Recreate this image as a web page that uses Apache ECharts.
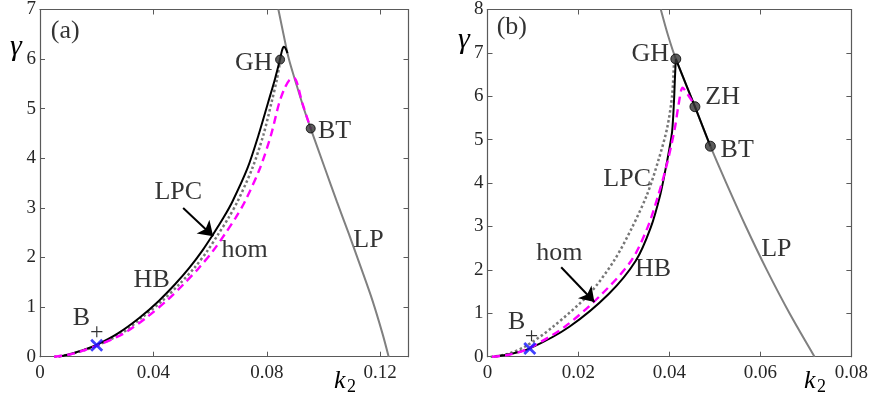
<!DOCTYPE html>
<html><head><meta charset="utf-8">
<script src="https://cdn.jsdelivr.net/npm/echarts@6/dist/echarts.min.js"></script>
<style>html,body{margin:0;padding:0;background:#fff}#c{width:871px;height:398px}</style>
</head><body><div id="c"></div>
<script>
// ---------- Panel (a) data ----------
const aXTicks = ['0', '0.04', '0.08', '0.12'];
const aLP  = [[0.0841,7],[0.0859,6.5],[0.0878,6.0],[0.0904,5.5],[0.0931,5.0],[0.0955,4.6],[0.1005,3.8],[0.1047,3.13],[0.1090,2.47],[0.1132,1.8],[0.1173,1.13],[0.1208,0.47],[0.1230,0]];
const aHB  = [[0.0065,0],[0.0105,0.05],[0.0145,0.12],[0.0200,0.24],[0.0275,0.47],[0.0350,0.78],[0.0420,1.13],[0.0478,1.47],[0.0528,1.8],[0.0574,2.15],[0.0611,2.47],[0.0647,2.8],[0.0679,3.13],[0.0732,3.8],[0.0771,4.47],[0.0805,5.13],[0.0829,5.6],[0.0847,6.0],[0.0854,6.18],[0.0860,6.25],[0.0866,6.22],[0.0873,6.12]];
const aLPC = [[0.0050,0],[0.0100,0.04],[0.0150,0.12],[0.0200,0.22],[0.0288,0.47],[0.0362,0.8],[0.0432,1.13],[0.0493,1.47],[0.0546,1.8],[0.0590,2.13],[0.0629,2.47],[0.0665,2.8],[0.0697,3.13],[0.0749,3.8],[0.0788,4.47],[0.0817,5.13],[0.0836,5.6],[0.0847,5.95]];
const aHom = [[0.0050,0],[0.0100,0.04],[0.0150,0.12],[0.0200,0.22],[0.0296,0.47],[0.0378,0.8],[0.0447,1.13],[0.0508,1.47],[0.0562,1.8],[0.0610,2.13],[0.0652,2.47],[0.0690,2.8],[0.0723,3.13],[0.0776,3.8],[0.0815,4.47],[0.0843,5.1],[0.0862,5.4],[0.0880,5.58],[0.0896,5.62],[0.0926,5.1],[0.0955,4.6]];
const aDots = [[0.0847,5.99],[0.0955,4.6]];
const aB = [[0.0200,0.23]];
const aArrow = [[0.0505,3.0],[0.0611,2.43]];
const aLabels = [[0.0089,6.57,'(a)'],[0.0754,5.92,'GH'],[0.1039,4.54,'BT'],[0.0488,3.32,'LPC'],[0.0722,2.15,'hom'],[0.0394,1.54,'HB'],[0.1159,2.34,'LP'],[0.0146,0.78,'B']];
const aPlus = [[0.0200,0.48,'+']];

// ---------- Panel (b) data ----------
const bXTicks = ['0', '0.02', '0.04', '0.06', '0.08'];
const bLP  = [[0.0381,8],[0.0397,7.4],[0.0414,6.86],[0.0456,5.76],[0.0490,4.85],[0.0525,4],[0.0568,3],[0.0614,2],[0.0664,1],[0.0719,0]];
const bHB  = [[0.0014,0],[0.0050,0.06],[0.0093,0.19],[0.0180,0.69],[0.0267,1.45],[0.0326,2.21],[0.0359,2.98],[0.0380,3.74],[0.0392,4.35],[0.0400,4.8],[0.0406,5.2],[0.0410,5.88],[0.0412,6.4],[0.0414,6.86]];
const bHB2 = [[0.0414,6.86],[0.0456,5.76],[0.0490,4.85]];
const bLPC = [[0.0007,0],[0.0040,0.05],[0.0082,0.23],[0.0144,0.69],[0.0224,1.45],[0.0278,2.21],[0.0318,2.98],[0.0351,3.74],[0.0375,4.5],[0.0395,5.27],[0.0406,6.03],[0.0410,6.79]];
const bHom = [[0.0010,0],[0.0050,0.05],[0.0090,0.19],[0.0170,0.69],[0.0252,1.45],[0.0316,2.21],[0.0352,2.98],[0.0376,3.74],[0.0396,4.5],[0.0412,5.27],[0.0420,5.8],[0.0429,6.2],[0.0440,6.05],[0.0452,5.85]];
const bDots = [[0.0414,6.86],[0.0456,5.76],[0.0490,4.85]];
const bB = [[0.0093,0.19]];
const bArrow = [[0.0162,2.06],[0.0235,1.26]];
const bLabels = [[0.00535,7.60,'(b)'],[0.0358,6.97,'GH'],[0.0517,5.99,'ZH'],[0.0549,4.77,'BT'],[0.0307,4.10,'LPC'],[0.0158,2.38,'hom'],[0.0364,2.02,'HB'],[0.0635,2.47,'LP'],[0.0064,0.79,'B']];
const bPlus = [[0.0097,0.47,'+']];

// ---------- styling ----------
const FONT = '"Liberation Serif", "Times New Roman", serif';
const AX = '#5a5a5a';
const TXT = '#262626';

function xAx(gi, min, max, interval, labels, top) {
  return {
    type: 'value', gridIndex: gi, min, max, interval, position: top ? 'top' : 'bottom',
    axisLine: { show: true, onZero: false, lineStyle: { color: AX, width: 1.2 } },
    axisTick: { show: true, inside: true, length: 5, lineStyle: { color: AX, width: 1 } },
    axisLabel: {
      show: !top, margin: 7, color: TXT, fontFamily: FONT, fontSize: 19,
      formatter: v => { const i = Math.round(v / interval); return Math.abs(v - i * interval) < 1e-9 ? (labels[i] || '') : ''; }
    },
    splitLine: { show: false }
  };
}
function yAx(gi, min, max, right) {
  return {
    type: 'value', gridIndex: gi, min, max, interval: 1, position: right ? 'right' : 'left',
    axisLine: { show: true, onZero: false, lineStyle: { color: AX, width: 1.2 } },
    axisTick: { show: true, inside: true, length: 5, lineStyle: { color: AX, width: 1 } },
    axisLabel: { show: !right, margin: 4, color: TXT, fontFamily: FONT, fontSize: 19 },
    splitLine: { show: false }
  };
}

function panelSeries(xi, yi, d) {
  const base = { xAxisIndex: xi, yAxisIndex: yi, silent: true, animation: false };
  const s = [];
  s.push(Object.assign({ type: 'line', data: d.lp, showSymbol: false, symbol: 'none', z: 2, smooth: 0.3,
    lineStyle: { color: '#808080', width: 2 } }, base));
  s.push(Object.assign({ type: 'line', data: d.lpc, showSymbol: false, symbol: 'none', z: 3, smooth: 0.3,
    lineStyle: { color: '#777', width: 2.5, type: [2.5, 2.5] } }, base));
  s.push(Object.assign({ type: 'line', data: d.hb, showSymbol: false, symbol: 'none', z: 4, smooth: 0.3,
    lineStyle: { color: '#000', width: 2 } }, base));
  if (d.hb2) s.push(Object.assign({ type: 'line', data: d.hb2, showSymbol: false, symbol: 'none', z: 4,
    lineStyle: { color: '#000', width: 2 } }, base));
  s.push(Object.assign({ type: 'line', data: d.hom, showSymbol: false, symbol: 'none', z: 5, smooth: 0.3,
    lineStyle: { color: '#ff00ff', width: 2.4, type: [8, 5] } }, base));
  s.push(Object.assign({ type: 'lines', coordinateSystem: 'cartesian2d', z: 6,
    symbol: ['none', 'arrow'], symbolSize: 14,
    lineStyle: { color: '#000', width: 2, opacity: 1 },
    data: [{ coords: d.arrow }] }, base));
  s.push(Object.assign({ type: 'scatter', data: d.dots, symbol: 'circle', symbolSize: d.dotSize, z: 7,
    itemStyle: { color: '#333', borderColor: '#000', borderWidth: 1 } }, base));
  s.push(Object.assign({ type: 'scatter', data: d.b, z: 7, symbolSize: 13,
    symbol: 'path://M0,1.5L1.5,0L5,3.5L8.5,0L10,1.5L6.5,5L10,8.5L8.5,10L5,6.5L1.5,10L0,8.5L3.5,5Z',
    itemStyle: { color: '#1010ff' } }, base));
  s.push(Object.assign({ type: 'scatter', data: d.labels, symbolSize: 0.1, z: 8,
    itemStyle: { color: 'transparent' },
    label: { show: true, position: 'inside', formatter: p => p.data[2], color: '#000', fontFamily: FONT, fontSize: 26 } }, base));
  s.push(Object.assign({ type: 'scatter', data: d.plus, symbolSize: 0.1, z: 8,
    itemStyle: { color: 'transparent' },
    label: { show: true, position: 'inside', formatter: p => p.data[2], color: '#000', fontFamily: FONT, fontSize: 24 } }, base));
  return s;
}

const chart = echarts.init(document.getElementById('c'), null, { renderer: 'canvas' });
const option = {
  backgroundColor: '#fff',
  animation: false,
  grid: [
    { left: 40, top: 7, width: 368.5, height: 349.7 },
    { left: 487.5, top: 7.3, width: 366.4, height: 349.4 }
  ],
  xAxis: [
    xAx(0, 0, 0.13, 0.04, aXTicks, false),
    xAx(0, 0, 0.13, 0.04, aXTicks, true),
    xAx(1, 0, 0.08, 0.02, bXTicks, false),
    xAx(1, 0, 0.08, 0.02, bXTicks, true)
  ],
  yAxis: [
    yAx(0, 0, 7, false), yAx(0, 0, 7, true),
    yAx(1, 0, 8, false), yAx(1, 0, 8, true)
  ],
  series: [].concat(
    panelSeries(0, 0, { lp: aLP, hb: aHB, lpc: aLPC, hom: aHom, dots: aDots, dotSize: 9, b: aB, arrow: aArrow, labels: aLabels, plus: aPlus }),
    panelSeries(2, 2, { lp: bLP, hb: bHB, hb2: bHB2, lpc: bLPC, hom: bHom, dots: bDots, dotSize: 10, b: bB, arrow: bArrow, labels: bLabels, plus: bPlus })
  ),
  graphic: [
    { type: 'text', left: 10, top: 32, style: { text: 'γ', font: 'italic 30px "Liberation Serif"', fill: '#000' } },
    { type: 'text', left: 458, top: 25, style: { text: 'γ', font: 'italic 30px "Liberation Serif"', fill: '#000' } },
    { type: 'text', left: 334, top: 368, style: { text: 'k', font: 'italic 26px "Liberation Serif"', fill: '#000' } },
    { type: 'text', left: 347, top: 378, style: { text: '2', font: '18px "Liberation Serif"', fill: '#000' } },
    { type: 'text', left: 804, top: 368, style: { text: 'k', font: 'italic 26px "Liberation Serif"', fill: '#000' } },
    { type: 'text', left: 817, top: 378, style: { text: '2', font: '18px "Liberation Serif"', fill: '#000' } }
  ]
};
chart.setOption(option);
</script>
</body></html>
